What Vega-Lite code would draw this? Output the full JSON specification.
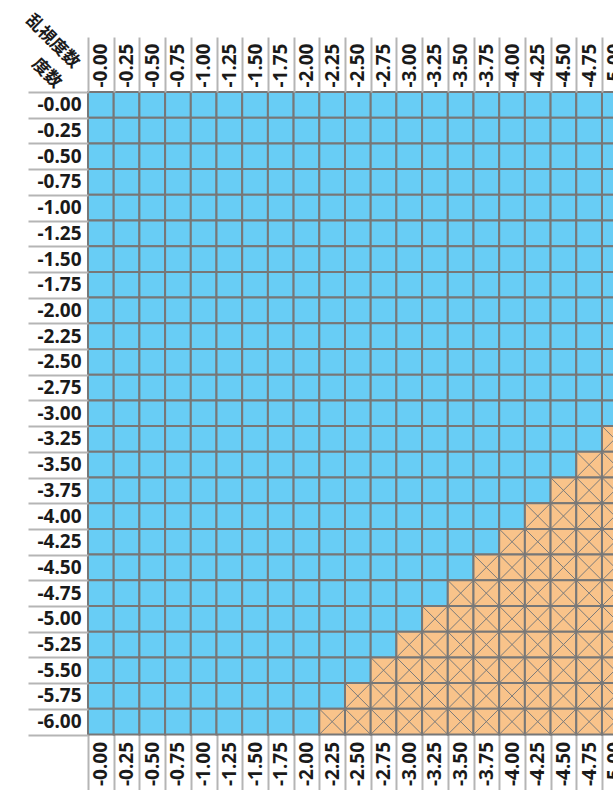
{
"$schema": "https://vega.github.io/schema/vega-lite/v6.json",
"autosize": "none",
"width": 539.7,
"height": 642.5,
"padding": {"left": 88, "top": 92, "right": -15, "bottom": 55.5},
"background": "white",
"config": {
 "view": {"stroke": null},
 "axis": {"labelFont": "Noto Sans", "labelFontWeight": "bold", "labelFontSize": 19, "labelColor": "#1a1a1a", "domain": false, "tickColor": "#b5b5b5", "tickWidth": 2, "tickBand": "extent", "titleFont": "Noto Sans CJK JP", "titleFontWeight": "bold", "titleFontSize": 17, "titleColor": "#1a1a1a"}
},
"data": {"values": [
{"s":"-0.00","c":"-0.00","k":"o"},{"s":"-0.00","c":"-0.25","k":"o"},{"s":"-0.00","c":"-0.50","k":"o"},{"s":"-0.00","c":"-0.75","k":"o"},{"s":"-0.00","c":"-1.00","k":"o"},{"s":"-0.00","c":"-1.25","k":"o"},{"s":"-0.00","c":"-1.50","k":"o"},{"s":"-0.00","c":"-1.75","k":"o"},{"s":"-0.00","c":"-2.00","k":"o"},{"s":"-0.00","c":"-2.25","k":"o"},{"s":"-0.00","c":"-2.50","k":"o"},{"s":"-0.00","c":"-2.75","k":"o"},{"s":"-0.00","c":"-3.00","k":"o"},{"s":"-0.00","c":"-3.25","k":"o"},{"s":"-0.00","c":"-3.50","k":"o"},{"s":"-0.00","c":"-3.75","k":"o"},{"s":"-0.00","c":"-4.00","k":"o"},{"s":"-0.00","c":"-4.25","k":"o"},{"s":"-0.00","c":"-4.50","k":"o"},{"s":"-0.00","c":"-4.75","k":"o"},{"s":"-0.00","c":"-5.00","k":"o"},
{"s":"-0.25","c":"-0.00","k":"o"},{"s":"-0.25","c":"-0.25","k":"o"},{"s":"-0.25","c":"-0.50","k":"o"},{"s":"-0.25","c":"-0.75","k":"o"},{"s":"-0.25","c":"-1.00","k":"o"},{"s":"-0.25","c":"-1.25","k":"o"},{"s":"-0.25","c":"-1.50","k":"o"},{"s":"-0.25","c":"-1.75","k":"o"},{"s":"-0.25","c":"-2.00","k":"o"},{"s":"-0.25","c":"-2.25","k":"o"},{"s":"-0.25","c":"-2.50","k":"o"},{"s":"-0.25","c":"-2.75","k":"o"},{"s":"-0.25","c":"-3.00","k":"o"},{"s":"-0.25","c":"-3.25","k":"o"},{"s":"-0.25","c":"-3.50","k":"o"},{"s":"-0.25","c":"-3.75","k":"o"},{"s":"-0.25","c":"-4.00","k":"o"},{"s":"-0.25","c":"-4.25","k":"o"},{"s":"-0.25","c":"-4.50","k":"o"},{"s":"-0.25","c":"-4.75","k":"o"},{"s":"-0.25","c":"-5.00","k":"o"},
{"s":"-0.50","c":"-0.00","k":"o"},{"s":"-0.50","c":"-0.25","k":"o"},{"s":"-0.50","c":"-0.50","k":"o"},{"s":"-0.50","c":"-0.75","k":"o"},{"s":"-0.50","c":"-1.00","k":"o"},{"s":"-0.50","c":"-1.25","k":"o"},{"s":"-0.50","c":"-1.50","k":"o"},{"s":"-0.50","c":"-1.75","k":"o"},{"s":"-0.50","c":"-2.00","k":"o"},{"s":"-0.50","c":"-2.25","k":"o"},{"s":"-0.50","c":"-2.50","k":"o"},{"s":"-0.50","c":"-2.75","k":"o"},{"s":"-0.50","c":"-3.00","k":"o"},{"s":"-0.50","c":"-3.25","k":"o"},{"s":"-0.50","c":"-3.50","k":"o"},{"s":"-0.50","c":"-3.75","k":"o"},{"s":"-0.50","c":"-4.00","k":"o"},{"s":"-0.50","c":"-4.25","k":"o"},{"s":"-0.50","c":"-4.50","k":"o"},{"s":"-0.50","c":"-4.75","k":"o"},{"s":"-0.50","c":"-5.00","k":"o"},
{"s":"-0.75","c":"-0.00","k":"o"},{"s":"-0.75","c":"-0.25","k":"o"},{"s":"-0.75","c":"-0.50","k":"o"},{"s":"-0.75","c":"-0.75","k":"o"},{"s":"-0.75","c":"-1.00","k":"o"},{"s":"-0.75","c":"-1.25","k":"o"},{"s":"-0.75","c":"-1.50","k":"o"},{"s":"-0.75","c":"-1.75","k":"o"},{"s":"-0.75","c":"-2.00","k":"o"},{"s":"-0.75","c":"-2.25","k":"o"},{"s":"-0.75","c":"-2.50","k":"o"},{"s":"-0.75","c":"-2.75","k":"o"},{"s":"-0.75","c":"-3.00","k":"o"},{"s":"-0.75","c":"-3.25","k":"o"},{"s":"-0.75","c":"-3.50","k":"o"},{"s":"-0.75","c":"-3.75","k":"o"},{"s":"-0.75","c":"-4.00","k":"o"},{"s":"-0.75","c":"-4.25","k":"o"},{"s":"-0.75","c":"-4.50","k":"o"},{"s":"-0.75","c":"-4.75","k":"o"},{"s":"-0.75","c":"-5.00","k":"o"},
{"s":"-1.00","c":"-0.00","k":"o"},{"s":"-1.00","c":"-0.25","k":"o"},{"s":"-1.00","c":"-0.50","k":"o"},{"s":"-1.00","c":"-0.75","k":"o"},{"s":"-1.00","c":"-1.00","k":"o"},{"s":"-1.00","c":"-1.25","k":"o"},{"s":"-1.00","c":"-1.50","k":"o"},{"s":"-1.00","c":"-1.75","k":"o"},{"s":"-1.00","c":"-2.00","k":"o"},{"s":"-1.00","c":"-2.25","k":"o"},{"s":"-1.00","c":"-2.50","k":"o"},{"s":"-1.00","c":"-2.75","k":"o"},{"s":"-1.00","c":"-3.00","k":"o"},{"s":"-1.00","c":"-3.25","k":"o"},{"s":"-1.00","c":"-3.50","k":"o"},{"s":"-1.00","c":"-3.75","k":"o"},{"s":"-1.00","c":"-4.00","k":"o"},{"s":"-1.00","c":"-4.25","k":"o"},{"s":"-1.00","c":"-4.50","k":"o"},{"s":"-1.00","c":"-4.75","k":"o"},{"s":"-1.00","c":"-5.00","k":"o"},
{"s":"-1.25","c":"-0.00","k":"o"},{"s":"-1.25","c":"-0.25","k":"o"},{"s":"-1.25","c":"-0.50","k":"o"},{"s":"-1.25","c":"-0.75","k":"o"},{"s":"-1.25","c":"-1.00","k":"o"},{"s":"-1.25","c":"-1.25","k":"o"},{"s":"-1.25","c":"-1.50","k":"o"},{"s":"-1.25","c":"-1.75","k":"o"},{"s":"-1.25","c":"-2.00","k":"o"},{"s":"-1.25","c":"-2.25","k":"o"},{"s":"-1.25","c":"-2.50","k":"o"},{"s":"-1.25","c":"-2.75","k":"o"},{"s":"-1.25","c":"-3.00","k":"o"},{"s":"-1.25","c":"-3.25","k":"o"},{"s":"-1.25","c":"-3.50","k":"o"},{"s":"-1.25","c":"-3.75","k":"o"},{"s":"-1.25","c":"-4.00","k":"o"},{"s":"-1.25","c":"-4.25","k":"o"},{"s":"-1.25","c":"-4.50","k":"o"},{"s":"-1.25","c":"-4.75","k":"o"},{"s":"-1.25","c":"-5.00","k":"o"},
{"s":"-1.50","c":"-0.00","k":"o"},{"s":"-1.50","c":"-0.25","k":"o"},{"s":"-1.50","c":"-0.50","k":"o"},{"s":"-1.50","c":"-0.75","k":"o"},{"s":"-1.50","c":"-1.00","k":"o"},{"s":"-1.50","c":"-1.25","k":"o"},{"s":"-1.50","c":"-1.50","k":"o"},{"s":"-1.50","c":"-1.75","k":"o"},{"s":"-1.50","c":"-2.00","k":"o"},{"s":"-1.50","c":"-2.25","k":"o"},{"s":"-1.50","c":"-2.50","k":"o"},{"s":"-1.50","c":"-2.75","k":"o"},{"s":"-1.50","c":"-3.00","k":"o"},{"s":"-1.50","c":"-3.25","k":"o"},{"s":"-1.50","c":"-3.50","k":"o"},{"s":"-1.50","c":"-3.75","k":"o"},{"s":"-1.50","c":"-4.00","k":"o"},{"s":"-1.50","c":"-4.25","k":"o"},{"s":"-1.50","c":"-4.50","k":"o"},{"s":"-1.50","c":"-4.75","k":"o"},{"s":"-1.50","c":"-5.00","k":"o"},
{"s":"-1.75","c":"-0.00","k":"o"},{"s":"-1.75","c":"-0.25","k":"o"},{"s":"-1.75","c":"-0.50","k":"o"},{"s":"-1.75","c":"-0.75","k":"o"},{"s":"-1.75","c":"-1.00","k":"o"},{"s":"-1.75","c":"-1.25","k":"o"},{"s":"-1.75","c":"-1.50","k":"o"},{"s":"-1.75","c":"-1.75","k":"o"},{"s":"-1.75","c":"-2.00","k":"o"},{"s":"-1.75","c":"-2.25","k":"o"},{"s":"-1.75","c":"-2.50","k":"o"},{"s":"-1.75","c":"-2.75","k":"o"},{"s":"-1.75","c":"-3.00","k":"o"},{"s":"-1.75","c":"-3.25","k":"o"},{"s":"-1.75","c":"-3.50","k":"o"},{"s":"-1.75","c":"-3.75","k":"o"},{"s":"-1.75","c":"-4.00","k":"o"},{"s":"-1.75","c":"-4.25","k":"o"},{"s":"-1.75","c":"-4.50","k":"o"},{"s":"-1.75","c":"-4.75","k":"o"},{"s":"-1.75","c":"-5.00","k":"o"},
{"s":"-2.00","c":"-0.00","k":"o"},{"s":"-2.00","c":"-0.25","k":"o"},{"s":"-2.00","c":"-0.50","k":"o"},{"s":"-2.00","c":"-0.75","k":"o"},{"s":"-2.00","c":"-1.00","k":"o"},{"s":"-2.00","c":"-1.25","k":"o"},{"s":"-2.00","c":"-1.50","k":"o"},{"s":"-2.00","c":"-1.75","k":"o"},{"s":"-2.00","c":"-2.00","k":"o"},{"s":"-2.00","c":"-2.25","k":"o"},{"s":"-2.00","c":"-2.50","k":"o"},{"s":"-2.00","c":"-2.75","k":"o"},{"s":"-2.00","c":"-3.00","k":"o"},{"s":"-2.00","c":"-3.25","k":"o"},{"s":"-2.00","c":"-3.50","k":"o"},{"s":"-2.00","c":"-3.75","k":"o"},{"s":"-2.00","c":"-4.00","k":"o"},{"s":"-2.00","c":"-4.25","k":"o"},{"s":"-2.00","c":"-4.50","k":"o"},{"s":"-2.00","c":"-4.75","k":"o"},{"s":"-2.00","c":"-5.00","k":"o"},
{"s":"-2.25","c":"-0.00","k":"o"},{"s":"-2.25","c":"-0.25","k":"o"},{"s":"-2.25","c":"-0.50","k":"o"},{"s":"-2.25","c":"-0.75","k":"o"},{"s":"-2.25","c":"-1.00","k":"o"},{"s":"-2.25","c":"-1.25","k":"o"},{"s":"-2.25","c":"-1.50","k":"o"},{"s":"-2.25","c":"-1.75","k":"o"},{"s":"-2.25","c":"-2.00","k":"o"},{"s":"-2.25","c":"-2.25","k":"o"},{"s":"-2.25","c":"-2.50","k":"o"},{"s":"-2.25","c":"-2.75","k":"o"},{"s":"-2.25","c":"-3.00","k":"o"},{"s":"-2.25","c":"-3.25","k":"o"},{"s":"-2.25","c":"-3.50","k":"o"},{"s":"-2.25","c":"-3.75","k":"o"},{"s":"-2.25","c":"-4.00","k":"o"},{"s":"-2.25","c":"-4.25","k":"o"},{"s":"-2.25","c":"-4.50","k":"o"},{"s":"-2.25","c":"-4.75","k":"o"},{"s":"-2.25","c":"-5.00","k":"o"},
{"s":"-2.50","c":"-0.00","k":"o"},{"s":"-2.50","c":"-0.25","k":"o"},{"s":"-2.50","c":"-0.50","k":"o"},{"s":"-2.50","c":"-0.75","k":"o"},{"s":"-2.50","c":"-1.00","k":"o"},{"s":"-2.50","c":"-1.25","k":"o"},{"s":"-2.50","c":"-1.50","k":"o"},{"s":"-2.50","c":"-1.75","k":"o"},{"s":"-2.50","c":"-2.00","k":"o"},{"s":"-2.50","c":"-2.25","k":"o"},{"s":"-2.50","c":"-2.50","k":"o"},{"s":"-2.50","c":"-2.75","k":"o"},{"s":"-2.50","c":"-3.00","k":"o"},{"s":"-2.50","c":"-3.25","k":"o"},{"s":"-2.50","c":"-3.50","k":"o"},{"s":"-2.50","c":"-3.75","k":"o"},{"s":"-2.50","c":"-4.00","k":"o"},{"s":"-2.50","c":"-4.25","k":"o"},{"s":"-2.50","c":"-4.50","k":"o"},{"s":"-2.50","c":"-4.75","k":"o"},{"s":"-2.50","c":"-5.00","k":"o"},
{"s":"-2.75","c":"-0.00","k":"o"},{"s":"-2.75","c":"-0.25","k":"o"},{"s":"-2.75","c":"-0.50","k":"o"},{"s":"-2.75","c":"-0.75","k":"o"},{"s":"-2.75","c":"-1.00","k":"o"},{"s":"-2.75","c":"-1.25","k":"o"},{"s":"-2.75","c":"-1.50","k":"o"},{"s":"-2.75","c":"-1.75","k":"o"},{"s":"-2.75","c":"-2.00","k":"o"},{"s":"-2.75","c":"-2.25","k":"o"},{"s":"-2.75","c":"-2.50","k":"o"},{"s":"-2.75","c":"-2.75","k":"o"},{"s":"-2.75","c":"-3.00","k":"o"},{"s":"-2.75","c":"-3.25","k":"o"},{"s":"-2.75","c":"-3.50","k":"o"},{"s":"-2.75","c":"-3.75","k":"o"},{"s":"-2.75","c":"-4.00","k":"o"},{"s":"-2.75","c":"-4.25","k":"o"},{"s":"-2.75","c":"-4.50","k":"o"},{"s":"-2.75","c":"-4.75","k":"o"},{"s":"-2.75","c":"-5.00","k":"o"},
{"s":"-3.00","c":"-0.00","k":"o"},{"s":"-3.00","c":"-0.25","k":"o"},{"s":"-3.00","c":"-0.50","k":"o"},{"s":"-3.00","c":"-0.75","k":"o"},{"s":"-3.00","c":"-1.00","k":"o"},{"s":"-3.00","c":"-1.25","k":"o"},{"s":"-3.00","c":"-1.50","k":"o"},{"s":"-3.00","c":"-1.75","k":"o"},{"s":"-3.00","c":"-2.00","k":"o"},{"s":"-3.00","c":"-2.25","k":"o"},{"s":"-3.00","c":"-2.50","k":"o"},{"s":"-3.00","c":"-2.75","k":"o"},{"s":"-3.00","c":"-3.00","k":"o"},{"s":"-3.00","c":"-3.25","k":"o"},{"s":"-3.00","c":"-3.50","k":"o"},{"s":"-3.00","c":"-3.75","k":"o"},{"s":"-3.00","c":"-4.00","k":"o"},{"s":"-3.00","c":"-4.25","k":"o"},{"s":"-3.00","c":"-4.50","k":"o"},{"s":"-3.00","c":"-4.75","k":"o"},{"s":"-3.00","c":"-5.00","k":"o"},
{"s":"-3.25","c":"-0.00","k":"o"},{"s":"-3.25","c":"-0.25","k":"o"},{"s":"-3.25","c":"-0.50","k":"o"},{"s":"-3.25","c":"-0.75","k":"o"},{"s":"-3.25","c":"-1.00","k":"o"},{"s":"-3.25","c":"-1.25","k":"o"},{"s":"-3.25","c":"-1.50","k":"o"},{"s":"-3.25","c":"-1.75","k":"o"},{"s":"-3.25","c":"-2.00","k":"o"},{"s":"-3.25","c":"-2.25","k":"o"},{"s":"-3.25","c":"-2.50","k":"o"},{"s":"-3.25","c":"-2.75","k":"o"},{"s":"-3.25","c":"-3.00","k":"o"},{"s":"-3.25","c":"-3.25","k":"o"},{"s":"-3.25","c":"-3.50","k":"o"},{"s":"-3.25","c":"-3.75","k":"o"},{"s":"-3.25","c":"-4.00","k":"o"},{"s":"-3.25","c":"-4.25","k":"o"},{"s":"-3.25","c":"-4.50","k":"o"},{"s":"-3.25","c":"-4.75","k":"o"},{"s":"-3.25","c":"-5.00","k":"x"},
{"s":"-3.50","c":"-0.00","k":"o"},{"s":"-3.50","c":"-0.25","k":"o"},{"s":"-3.50","c":"-0.50","k":"o"},{"s":"-3.50","c":"-0.75","k":"o"},{"s":"-3.50","c":"-1.00","k":"o"},{"s":"-3.50","c":"-1.25","k":"o"},{"s":"-3.50","c":"-1.50","k":"o"},{"s":"-3.50","c":"-1.75","k":"o"},{"s":"-3.50","c":"-2.00","k":"o"},{"s":"-3.50","c":"-2.25","k":"o"},{"s":"-3.50","c":"-2.50","k":"o"},{"s":"-3.50","c":"-2.75","k":"o"},{"s":"-3.50","c":"-3.00","k":"o"},{"s":"-3.50","c":"-3.25","k":"o"},{"s":"-3.50","c":"-3.50","k":"o"},{"s":"-3.50","c":"-3.75","k":"o"},{"s":"-3.50","c":"-4.00","k":"o"},{"s":"-3.50","c":"-4.25","k":"o"},{"s":"-3.50","c":"-4.50","k":"o"},{"s":"-3.50","c":"-4.75","k":"x"},{"s":"-3.50","c":"-5.00","k":"x"},
{"s":"-3.75","c":"-0.00","k":"o"},{"s":"-3.75","c":"-0.25","k":"o"},{"s":"-3.75","c":"-0.50","k":"o"},{"s":"-3.75","c":"-0.75","k":"o"},{"s":"-3.75","c":"-1.00","k":"o"},{"s":"-3.75","c":"-1.25","k":"o"},{"s":"-3.75","c":"-1.50","k":"o"},{"s":"-3.75","c":"-1.75","k":"o"},{"s":"-3.75","c":"-2.00","k":"o"},{"s":"-3.75","c":"-2.25","k":"o"},{"s":"-3.75","c":"-2.50","k":"o"},{"s":"-3.75","c":"-2.75","k":"o"},{"s":"-3.75","c":"-3.00","k":"o"},{"s":"-3.75","c":"-3.25","k":"o"},{"s":"-3.75","c":"-3.50","k":"o"},{"s":"-3.75","c":"-3.75","k":"o"},{"s":"-3.75","c":"-4.00","k":"o"},{"s":"-3.75","c":"-4.25","k":"o"},{"s":"-3.75","c":"-4.50","k":"x"},{"s":"-3.75","c":"-4.75","k":"x"},{"s":"-3.75","c":"-5.00","k":"x"},
{"s":"-4.00","c":"-0.00","k":"o"},{"s":"-4.00","c":"-0.25","k":"o"},{"s":"-4.00","c":"-0.50","k":"o"},{"s":"-4.00","c":"-0.75","k":"o"},{"s":"-4.00","c":"-1.00","k":"o"},{"s":"-4.00","c":"-1.25","k":"o"},{"s":"-4.00","c":"-1.50","k":"o"},{"s":"-4.00","c":"-1.75","k":"o"},{"s":"-4.00","c":"-2.00","k":"o"},{"s":"-4.00","c":"-2.25","k":"o"},{"s":"-4.00","c":"-2.50","k":"o"},{"s":"-4.00","c":"-2.75","k":"o"},{"s":"-4.00","c":"-3.00","k":"o"},{"s":"-4.00","c":"-3.25","k":"o"},{"s":"-4.00","c":"-3.50","k":"o"},{"s":"-4.00","c":"-3.75","k":"o"},{"s":"-4.00","c":"-4.00","k":"o"},{"s":"-4.00","c":"-4.25","k":"x"},{"s":"-4.00","c":"-4.50","k":"x"},{"s":"-4.00","c":"-4.75","k":"x"},{"s":"-4.00","c":"-5.00","k":"x"},
{"s":"-4.25","c":"-0.00","k":"o"},{"s":"-4.25","c":"-0.25","k":"o"},{"s":"-4.25","c":"-0.50","k":"o"},{"s":"-4.25","c":"-0.75","k":"o"},{"s":"-4.25","c":"-1.00","k":"o"},{"s":"-4.25","c":"-1.25","k":"o"},{"s":"-4.25","c":"-1.50","k":"o"},{"s":"-4.25","c":"-1.75","k":"o"},{"s":"-4.25","c":"-2.00","k":"o"},{"s":"-4.25","c":"-2.25","k":"o"},{"s":"-4.25","c":"-2.50","k":"o"},{"s":"-4.25","c":"-2.75","k":"o"},{"s":"-4.25","c":"-3.00","k":"o"},{"s":"-4.25","c":"-3.25","k":"o"},{"s":"-4.25","c":"-3.50","k":"o"},{"s":"-4.25","c":"-3.75","k":"o"},{"s":"-4.25","c":"-4.00","k":"x"},{"s":"-4.25","c":"-4.25","k":"x"},{"s":"-4.25","c":"-4.50","k":"x"},{"s":"-4.25","c":"-4.75","k":"x"},{"s":"-4.25","c":"-5.00","k":"x"},
{"s":"-4.50","c":"-0.00","k":"o"},{"s":"-4.50","c":"-0.25","k":"o"},{"s":"-4.50","c":"-0.50","k":"o"},{"s":"-4.50","c":"-0.75","k":"o"},{"s":"-4.50","c":"-1.00","k":"o"},{"s":"-4.50","c":"-1.25","k":"o"},{"s":"-4.50","c":"-1.50","k":"o"},{"s":"-4.50","c":"-1.75","k":"o"},{"s":"-4.50","c":"-2.00","k":"o"},{"s":"-4.50","c":"-2.25","k":"o"},{"s":"-4.50","c":"-2.50","k":"o"},{"s":"-4.50","c":"-2.75","k":"o"},{"s":"-4.50","c":"-3.00","k":"o"},{"s":"-4.50","c":"-3.25","k":"o"},{"s":"-4.50","c":"-3.50","k":"o"},{"s":"-4.50","c":"-3.75","k":"x"},{"s":"-4.50","c":"-4.00","k":"x"},{"s":"-4.50","c":"-4.25","k":"x"},{"s":"-4.50","c":"-4.50","k":"x"},{"s":"-4.50","c":"-4.75","k":"x"},{"s":"-4.50","c":"-5.00","k":"x"},
{"s":"-4.75","c":"-0.00","k":"o"},{"s":"-4.75","c":"-0.25","k":"o"},{"s":"-4.75","c":"-0.50","k":"o"},{"s":"-4.75","c":"-0.75","k":"o"},{"s":"-4.75","c":"-1.00","k":"o"},{"s":"-4.75","c":"-1.25","k":"o"},{"s":"-4.75","c":"-1.50","k":"o"},{"s":"-4.75","c":"-1.75","k":"o"},{"s":"-4.75","c":"-2.00","k":"o"},{"s":"-4.75","c":"-2.25","k":"o"},{"s":"-4.75","c":"-2.50","k":"o"},{"s":"-4.75","c":"-2.75","k":"o"},{"s":"-4.75","c":"-3.00","k":"o"},{"s":"-4.75","c":"-3.25","k":"o"},{"s":"-4.75","c":"-3.50","k":"x"},{"s":"-4.75","c":"-3.75","k":"x"},{"s":"-4.75","c":"-4.00","k":"x"},{"s":"-4.75","c":"-4.25","k":"x"},{"s":"-4.75","c":"-4.50","k":"x"},{"s":"-4.75","c":"-4.75","k":"x"},{"s":"-4.75","c":"-5.00","k":"x"},
{"s":"-5.00","c":"-0.00","k":"o"},{"s":"-5.00","c":"-0.25","k":"o"},{"s":"-5.00","c":"-0.50","k":"o"},{"s":"-5.00","c":"-0.75","k":"o"},{"s":"-5.00","c":"-1.00","k":"o"},{"s":"-5.00","c":"-1.25","k":"o"},{"s":"-5.00","c":"-1.50","k":"o"},{"s":"-5.00","c":"-1.75","k":"o"},{"s":"-5.00","c":"-2.00","k":"o"},{"s":"-5.00","c":"-2.25","k":"o"},{"s":"-5.00","c":"-2.50","k":"o"},{"s":"-5.00","c":"-2.75","k":"o"},{"s":"-5.00","c":"-3.00","k":"o"},{"s":"-5.00","c":"-3.25","k":"x"},{"s":"-5.00","c":"-3.50","k":"x"},{"s":"-5.00","c":"-3.75","k":"x"},{"s":"-5.00","c":"-4.00","k":"x"},{"s":"-5.00","c":"-4.25","k":"x"},{"s":"-5.00","c":"-4.50","k":"x"},{"s":"-5.00","c":"-4.75","k":"x"},{"s":"-5.00","c":"-5.00","k":"x"},
{"s":"-5.25","c":"-0.00","k":"o"},{"s":"-5.25","c":"-0.25","k":"o"},{"s":"-5.25","c":"-0.50","k":"o"},{"s":"-5.25","c":"-0.75","k":"o"},{"s":"-5.25","c":"-1.00","k":"o"},{"s":"-5.25","c":"-1.25","k":"o"},{"s":"-5.25","c":"-1.50","k":"o"},{"s":"-5.25","c":"-1.75","k":"o"},{"s":"-5.25","c":"-2.00","k":"o"},{"s":"-5.25","c":"-2.25","k":"o"},{"s":"-5.25","c":"-2.50","k":"o"},{"s":"-5.25","c":"-2.75","k":"o"},{"s":"-5.25","c":"-3.00","k":"x"},{"s":"-5.25","c":"-3.25","k":"x"},{"s":"-5.25","c":"-3.50","k":"x"},{"s":"-5.25","c":"-3.75","k":"x"},{"s":"-5.25","c":"-4.00","k":"x"},{"s":"-5.25","c":"-4.25","k":"x"},{"s":"-5.25","c":"-4.50","k":"x"},{"s":"-5.25","c":"-4.75","k":"x"},{"s":"-5.25","c":"-5.00","k":"x"},
{"s":"-5.50","c":"-0.00","k":"o"},{"s":"-5.50","c":"-0.25","k":"o"},{"s":"-5.50","c":"-0.50","k":"o"},{"s":"-5.50","c":"-0.75","k":"o"},{"s":"-5.50","c":"-1.00","k":"o"},{"s":"-5.50","c":"-1.25","k":"o"},{"s":"-5.50","c":"-1.50","k":"o"},{"s":"-5.50","c":"-1.75","k":"o"},{"s":"-5.50","c":"-2.00","k":"o"},{"s":"-5.50","c":"-2.25","k":"o"},{"s":"-5.50","c":"-2.50","k":"o"},{"s":"-5.50","c":"-2.75","k":"x"},{"s":"-5.50","c":"-3.00","k":"x"},{"s":"-5.50","c":"-3.25","k":"x"},{"s":"-5.50","c":"-3.50","k":"x"},{"s":"-5.50","c":"-3.75","k":"x"},{"s":"-5.50","c":"-4.00","k":"x"},{"s":"-5.50","c":"-4.25","k":"x"},{"s":"-5.50","c":"-4.50","k":"x"},{"s":"-5.50","c":"-4.75","k":"x"},{"s":"-5.50","c":"-5.00","k":"x"},
{"s":"-5.75","c":"-0.00","k":"o"},{"s":"-5.75","c":"-0.25","k":"o"},{"s":"-5.75","c":"-0.50","k":"o"},{"s":"-5.75","c":"-0.75","k":"o"},{"s":"-5.75","c":"-1.00","k":"o"},{"s":"-5.75","c":"-1.25","k":"o"},{"s":"-5.75","c":"-1.50","k":"o"},{"s":"-5.75","c":"-1.75","k":"o"},{"s":"-5.75","c":"-2.00","k":"o"},{"s":"-5.75","c":"-2.25","k":"o"},{"s":"-5.75","c":"-2.50","k":"x"},{"s":"-5.75","c":"-2.75","k":"x"},{"s":"-5.75","c":"-3.00","k":"x"},{"s":"-5.75","c":"-3.25","k":"x"},{"s":"-5.75","c":"-3.50","k":"x"},{"s":"-5.75","c":"-3.75","k":"x"},{"s":"-5.75","c":"-4.00","k":"x"},{"s":"-5.75","c":"-4.25","k":"x"},{"s":"-5.75","c":"-4.50","k":"x"},{"s":"-5.75","c":"-4.75","k":"x"},{"s":"-5.75","c":"-5.00","k":"x"},
{"s":"-6.00","c":"-0.00","k":"o"},{"s":"-6.00","c":"-0.25","k":"o"},{"s":"-6.00","c":"-0.50","k":"o"},{"s":"-6.00","c":"-0.75","k":"o"},{"s":"-6.00","c":"-1.00","k":"o"},{"s":"-6.00","c":"-1.25","k":"o"},{"s":"-6.00","c":"-1.50","k":"o"},{"s":"-6.00","c":"-1.75","k":"o"},{"s":"-6.00","c":"-2.00","k":"o"},{"s":"-6.00","c":"-2.25","k":"x"},{"s":"-6.00","c":"-2.50","k":"x"},{"s":"-6.00","c":"-2.75","k":"x"},{"s":"-6.00","c":"-3.00","k":"x"},{"s":"-6.00","c":"-3.25","k":"x"},{"s":"-6.00","c":"-3.50","k":"x"},{"s":"-6.00","c":"-3.75","k":"x"},{"s":"-6.00","c":"-4.00","k":"x"},{"s":"-6.00","c":"-4.25","k":"x"},{"s":"-6.00","c":"-4.50","k":"x"},{"s":"-6.00","c":"-4.75","k":"x"},{"s":"-6.00","c":"-5.00","k":"x"}
]},
"layer": [
 {
  "mark": {"type": "rect", "stroke": "#777777", "strokeWidth": 2},
  "encoding": {
   "x": {"field": "c", "type": "nominal", "scale": {"padding": 0}, "axis": {"orient": "top", "labelAngle": -90, "tickSize": 55, "labelPadding": -50, "title": "乱視度数", "titleAngle": 45, "titleX": -36, "titleY": -51, "titleAlign": "center", "titleBaseline": "middle"}},
   "y": {"field": "s", "type": "nominal", "scale": {"padding": 0}, "axis": {"tickSize": 60, "labelPadding": -53, "title": "度数", "titleAngle": 45, "titleX": -42, "titleY": -19, "titleAlign": "center", "titleBaseline": "middle"}},
   "color": {"field": "k", "type": "nominal", "scale": {"domain": ["o", "x"], "range": ["#68cdf5", "#f9c38a"]}, "legend": null}
  }
 },
 {
  "transform": [{"filter": "datum.k === 'x'"}],
  "mark": {"type": "point", "shape": "M-1,-1L1,1M1,-1L-1,1", "filled": false, "stroke": "#7a7a7a", "strokeWidth": 1, "size": 660, "opacity": 1},
  "encoding": {
   "x": {"field": "c", "type": "nominal", "axis": {"orient": "bottom", "labelAngle": -90, "tickSize": 55, "labelPadding": -48, "title": null}},
   "y": {"field": "s", "type": "nominal"}
  }
 }
],
"resolve": {"axis": {"x": "independent"}}
}
